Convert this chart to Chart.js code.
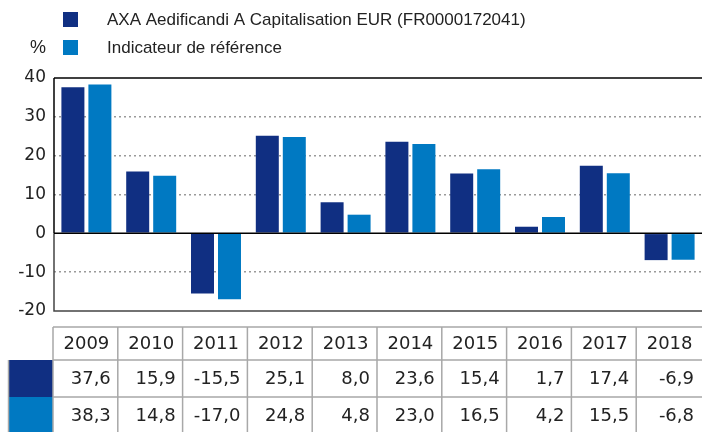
<!DOCTYPE html>
<html><head><meta charset="utf-8">
<script src="https://cdn.jsdelivr.net/npm/chart.js@4/dist/chart.umd.min.js"></script>
<style>html,body{margin:0;padding:0;background:#fff}#wrap{width:702px;height:432px}</style>
</head><body><div id="wrap"><canvas id="c" width="702" height="432"></canvas></div>
<script>
const categories = ['2009','2010','2011','2012','2013','2014','2015','2016','2017','2018'];
const fundValues = [37.6, 15.9, -15.5, 25.1, 8.0, 23.6, 15.4, 1.7, 17.4, -6.9];
const benchValues = [38.3, 14.8, -17.0, 24.8, 4.8, 23.0, 16.5, 4.2, 15.5, -6.8];
const fundLabel = 'AXA Aedificandi A Capitalisation EUR (FR0000172041)';
const benchLabel = 'Indicateur de référence';
const yTicks = [-20, -10, 0, 10, 20, 30, 40];
const unitLabel = '%';

const DARK = '#102f82', LIGHT = '#0079c2';
const FONT = '"Liberation Sans", Arial, sans-serif';
const NUMFONT = '"DejaVu Sans", sans-serif';
const fmt = v => v.toFixed(1).replace('.', ',');

const decor = {
  id: 'decor',
  beforeDatasetsDraw(chart) {
    const {ctx, chartArea: a, scales: {y}} = chart;
    ctx.save();
    ctx.strokeStyle = '#000'; ctx.lineWidth = 1.5;
    ctx.beginPath(); ctx.moveTo(a.left, a.top); ctx.lineTo(a.right, a.top); ctx.stroke();
    const y0 = y.getPixelForValue(0);
    ctx.beginPath(); ctx.moveTo(a.left, a.top); ctx.lineTo(a.left, y0); ctx.stroke();
    ctx.strokeStyle = '#444';
    ctx.beginPath(); ctx.moveTo(a.left, y0); ctx.lineTo(a.left, a.bottom); ctx.lineTo(a.right, a.bottom); ctx.stroke();
    ctx.restore();
  },
  afterDatasetsDraw(chart) {
    const {ctx, chartArea: a, scales: {y}} = chart;
    const y0 = y.getPixelForValue(0);
    ctx.save();
    ctx.strokeStyle = '#000'; ctx.lineWidth = 1.5;
    ctx.beginPath(); ctx.moveTo(a.left, y0); ctx.lineTo(a.right, y0); ctx.stroke();
    ctx.restore();
  },
  afterDraw(chart) {
    const {ctx, chartArea: a} = chart;
    ctx.save();
    // legend
    ctx.font = '17px ' + FONT;
    ctx.textBaseline = 'middle';
    ctx.fillStyle = DARK; ctx.fillRect(63, 12, 15, 15);
    ctx.fillStyle = LIGHT; ctx.fillRect(63, 40, 15, 15);
    ctx.fillStyle = '#222';
    ctx.textAlign = 'left';
    ctx.fillText(fundLabel, 107, 20);
    ctx.fillText(benchLabel, 107, 48);
    ctx.textAlign = 'right';
    ctx.font = '18px ' + FONT;
    ctx.fillText(unitLabel, 46, 48);

    // table
    const n = categories.length;
    const w = (a.right - a.left) / n;
    const rows = [327, 360, 397, 434];
    const tl = a.left - 1;
    ctx.fillStyle = DARK; ctx.fillRect(8, rows[1], tl - 8, rows[2] - rows[1]);
    ctx.fillStyle = LIGHT; ctx.fillRect(8, rows[2], tl - 8, rows[3] - rows[2]);
    ctx.strokeStyle = '#a8a8a8'; ctx.lineWidth = 1.5;
    ctx.beginPath(); ctx.moveTo(8.5, rows[1]); ctx.lineTo(8.5, rows[3]); ctx.stroke();
    ctx.beginPath();
    ctx.moveTo(tl, rows[0]); ctx.lineTo(a.right, rows[0]);
    ctx.moveTo(tl, rows[1]); ctx.lineTo(a.right, rows[1]);
    ctx.moveTo(tl, rows[2]); ctx.lineTo(a.right, rows[2]);
    for (let i = 0; i < n; i++) {
      const x = tl + i * w;
      ctx.moveTo(x, rows[0]); ctx.lineTo(x, rows[3]);
    }
    ctx.stroke();
    ctx.fillStyle = '#222';
    ctx.font = '18px ' + NUMFONT;
    for (let i = 0; i < n; i++) {
      const x0 = tl + i * w;
      ctx.textAlign = 'center';
      ctx.fillText(categories[i], x0 + w / 2 + 1, (rows[0] + rows[1]) / 2 + 1);
      ctx.textAlign = 'right';
      ctx.fillText(fmt(fundValues[i]), x0 + w - 7, (rows[1] + rows[2]) / 2 + 1);
      ctx.fillText(fmt(benchValues[i]), x0 + w - 7, (rows[2] + rows[3]) / 2 + 1);
    }
    ctx.restore();
  }
};

new Chart(document.getElementById('c'), {
  type: 'bar',
  data: {
    labels: categories,
    datasets: [
      {label: fundLabel, data: fundValues, backgroundColor: DARK},
      {label: benchLabel, data: benchValues, backgroundColor: LIGHT}
    ]
  },
  options: {
    responsive: false,
    animation: false,
    devicePixelRatio: 1,
    categoryPercentage: 0.833,
    barPercentage: 0.852,
    layout: {padding: {top: 78, bottom: 121, right: 0, left: 0}},
    plugins: {legend: {display: false}, tooltip: {enabled: false}},
    scales: {
      x: {display: false},
      y: {
        min: -20, max: 40,
        afterFit(s) { s.width = 54; },
        afterBuildTicks(s) { s.ticks = yTicks.map(v => ({value: v})); },
        border: {display: false, dash: [2, 3]},
        grid: {
          drawTicks: false,
          color: ctx => (ctx.tick && (ctx.tick.value === 0 || ctx.tick.value === 40 || ctx.tick.value === -20)) ? 'rgba(0,0,0,0)' : '#9a9a9a',
          lineWidth: 1.5
        },
        ticks: {
          padding: 8,
          color: '#222',
          font: {size: 17, family: NUMFONT},
          callback: v => String(v)
        }
      }
    }
  },
  plugins: [decor]
});
</script>
</body></html>
